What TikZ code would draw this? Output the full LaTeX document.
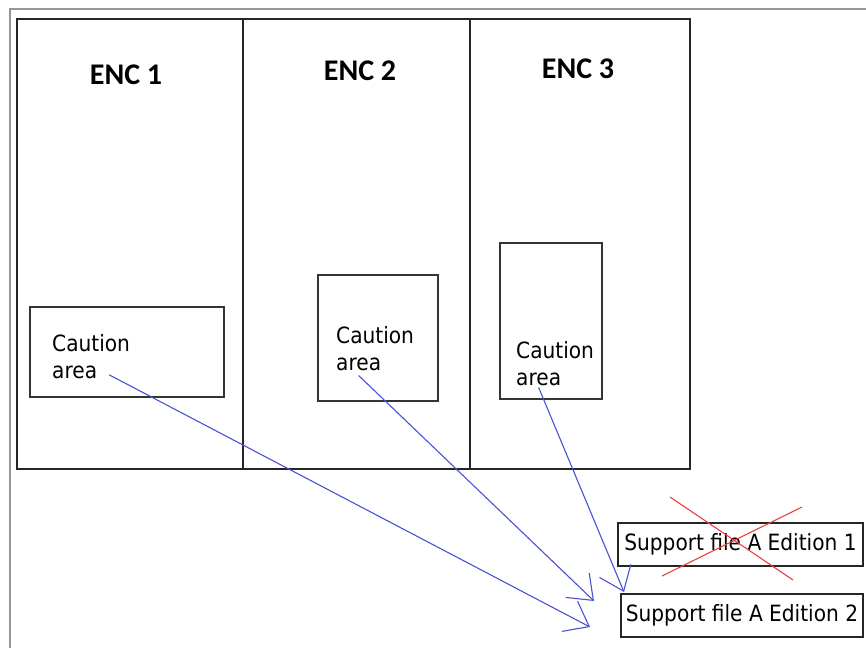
\documentclass[tikz,border=0pt]{standalone}
\usepackage{fontspec}
\newfontfamily\encfont{Carlito}
\newfontfamily\notefont{DejaVu Sans Condensed}
\usetikzlibrary{arrows.meta}
\definecolor{penblue}{RGB}{72,82,214}
\definecolor{penred}{RGB}{232,64,64}
\definecolor{framegray}{RGB}{150,150,150}
\tikzset{
  enclabel/.style={font=\encfont\bfseries\fontsize{30}{36}\selectfont,anchor=base,inner sep=0pt},
  cautiontext/.style={font=\notefont\fontsize{22.4}{27}\selectfont,anchor=base west,inner sep=0pt},
  suppbox/.style={draw=black!85,line width=1.8pt,font=\notefont\fontsize{22.4}{27}\selectfont,minimum height=43pt,inner sep=0pt},
  pen/.style={penblue,line width=1.1pt,-{Straight Barb[length=22pt,width=34pt]}},
  cross/.style={penred,line width=1.1pt}
}
\begin{document}
\begin{tikzpicture}[x=1pt,y=-1pt]
      \useasboundingbox (0,0) rectangle (866,648);
      \draw[framegray,line width=2.5pt] (10,648) -- (10,9) -- (866,9);
      \draw[black!85,line width=2pt] (17,19) rectangle (690,469);
      \draw[black!85,line width=2pt] (243,19) -- (243,469);
      \draw[black!85,line width=2pt] (470,19) -- (470,469);
      \node[enclabel] (enc1) at (126,84) {ENC 1};
      \node[enclabel] (enc2) at (360,80) {ENC 2};
      \node[enclabel] (enc3) at (578,78) {ENC 3};
      \draw[black!80,line width=1.6pt] (30,307) rectangle (224,397);
      \draw[black!80,line width=1.6pt] (318,275) rectangle (438,401);
      \draw[black!80,line width=1.6pt] (500,243) rectangle (602,399);
      \node[cautiontext] (cau1) at (52,351) {Caution};
      \node[cautiontext] (area1) at (52,378) {area};
      \node[cautiontext] (cau2) at (336,343) {Caution};
      \node[cautiontext] (area2) at (336,370) {area};
      \node[cautiontext] (cau3) at (516,358) {Caution};
      \node[cautiontext] (area3) at (516,385) {area};
      \node[suppbox,minimum width=245pt] (ed1) at (740.5,544.5) {Support file A Edition 1};
      \node[suppbox,minimum width=242pt] (ed2) at (742,615.5) {Support file A Edition 2};
      \draw[cross] (670,497) -- (793,580);
      \draw[cross] (802,507) -- (662,576);
      \coordinate (tip1) at (590,627);
      \coordinate (tip2) at (594,601);
      \coordinate (tip3) at (624,592);
      \draw[pen] ([xshift=12pt,yshift=-3pt]area1.east) -- (tip1);
      \draw[pen] ([yshift=-5pt]area2.south) -- (tip2);
      \draw[pen] ([yshift=-2pt]area3.south) -- (tip3);
   \end{tikzpicture}
\end{document}
